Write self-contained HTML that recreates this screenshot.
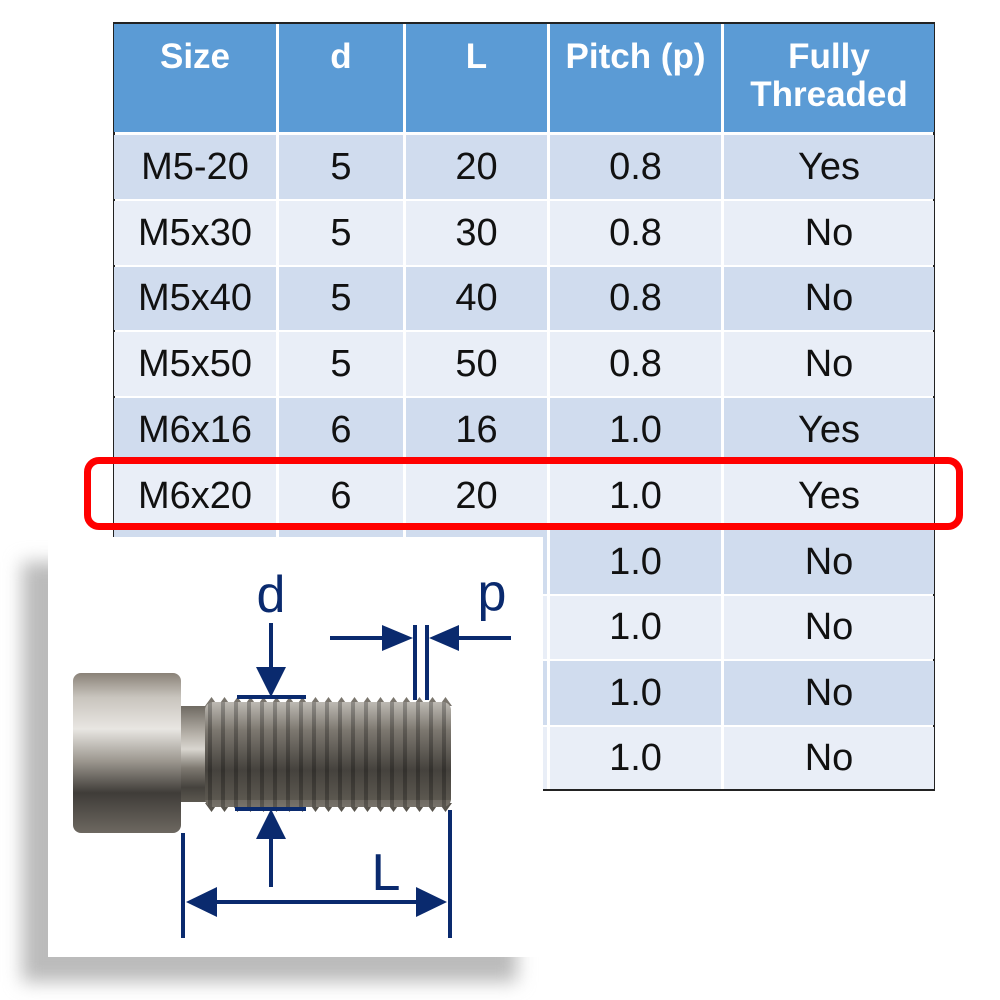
<!DOCTYPE html>
<html><head><meta charset="utf-8"><style>
body{margin:0;width:1000px;height:1000px;background:#fff;position:relative;overflow:hidden;font-family:"Liberation Sans",sans-serif}
.c{position:absolute;display:flex;align-items:center;justify-content:center;font-size:38px;color:#111;box-sizing:border-box}
.h{color:#fff;font-weight:bold;background:#5b9bd5;line-height:38px;text-align:center;align-items:flex-start;padding-top:14px;font-size:35px}
</style></head><body>
<div id="t" style="position:absolute;left:113px;top:22px;width:822px;height:769px;border:2px solid #222;box-sizing:border-box;background:#fff"></div>
<div id="cells"></div>
<script>
var cols=[113,277,404,548,722,935];
var hd=["Size","d","L","Pitch (p)","Fully<br>Threaded"];
var rows=[["M5-20","5","20","0.8","Yes"],["M5x30","5","30","0.8","No"],["M5x40","5","40","0.8","No"],["M5x50","5","50","0.8","No"],["M6x16","6","16","1.0","Yes"],["M6x20","6","20","1.0","Yes"],["","","","1.0","No"],["","","","1.0","No"],["","","","1.0","No"],["","","","1.0","No"]];
var h="";
for(var j=0;j<5;j++){var x=cols[j]+(j?2:1),w=cols[j+1]-x-1;
h+='<div class="c h" style="left:'+x+'px;top:24px;width:'+w+'px;height:108px">'+hd[j]+'</div>';
for(var i=0;i<10;i++){var y=Math.round(135+65.8*i),y2=Math.round(133+65.8*(i+1));if(i==9)y2=789;
h+='<div class="c" style="left:'+x+'px;top:'+y+'px;width:'+w+'px;height:'+(y2-y)+'px;background:'+(i%2?'#e9eef7':'#d0dcee')+'">'+rows[i][j]+'</div>';}}
document.getElementById("cells").innerHTML=h;
</script>
<div style="position:absolute;left:84px;top:457px;width:879px;height:73px;border:7px solid #f00;border-radius:15px;box-sizing:border-box"></div>
<div style="position:absolute;left:22px;top:562px;width:495px;height:420px;background:#bbb;filter:blur(9px)"></div>
<svg id="s" style="position:absolute;left:0;top:0" width="1000" height="1000">
<defs>
<linearGradient id="hg" x1="0" y1="0" x2="0" y2="1"><stop offset="0" stop-color="#8a8278"/><stop offset=".15" stop-color="#c8c4bd"/><stop offset=".35" stop-color="#e8e6e2"/><stop offset=".55" stop-color="#9c978f"/><stop offset=".75" stop-color="#3f3c38"/><stop offset="1" stop-color="#6d6860"/></linearGradient>
<linearGradient id="tg" x1="0" y1="0" x2="0" y2="1"><stop offset="0" stop-color="#6f6a62"/><stop offset=".3" stop-color="#b8b3ab"/><stop offset=".45" stop-color="#d9d6d0"/><stop offset=".65" stop-color="#7d7870"/><stop offset=".85" stop-color="#45423d"/><stop offset="1" stop-color="#5c5850"/></linearGradient>
<pattern id="th" width="13" height="200" patternUnits="userSpaceOnUse" x="0"><rect width="13" height="200" fill="url(#tg)"/><rect x="0" width="4" height="200" fill="#000" opacity=".25"/></pattern>
</defs>
<rect x="48" y="537" width="495" height="420" fill="#fff"/>
<rect x="180" y="706" width="35" height="96" fill="url(#tg)"/>
<path id="top" fill="#7a756d"/>
<path id="bot" fill="#57534c"/>
<rect x="205" y="702" width="246" height="105" rx="8" fill="url(#th)"/>
<rect x="73" y="673" width="108" height="160" rx="8" fill="url(#hg)"/>
<g fill="#0a2a6e" stroke="#0a2a6e">
<g stroke-width="4" fill="none">
<line x1="271" y1="623" x2="271" y2="685"/><line x1="237" y1="697" x2="306" y2="697"/>
<line x1="235" y1="809" x2="306" y2="809"/><line x1="271" y1="822" x2="271" y2="887"/>
<line x1="330" y1="638" x2="398" y2="638"/><line x1="445" y1="638" x2="511" y2="638"/>
<line x1="415" y1="625" x2="415" y2="700"/><line x1="427" y1="625" x2="427" y2="700"/>
<line x1="183" y1="833" x2="183" y2="938"/><line x1="450" y1="810" x2="450" y2="938"/>
<line x1="200" y1="902" x2="432" y2="902"/>
</g>
<g stroke="none">
<polygon points="256,667 286,667 271,697"/><polygon points="256,839 286,839 271,809"/>
<polygon points="382,625 382,651 413,638"/><polygon points="459,625 459,651 429,638"/>
<polygon points="186,902 217,887 217,917"/><polygon points="447,902 416,887 416,917"/>
</g>
<g stroke="none" font-family="Liberation Sans,sans-serif" font-size="52">
<text x="271" y="612" text-anchor="middle">d</text>
<text x="492" y="610" text-anchor="middle">p</text>
<text x="386" y="890" text-anchor="middle">L</text>
</g>
</g>
</svg>
<script>
var t="M205 706",b="M205 803";
for(var x=205;x<440;x+=13){t+=" L"+(x+6.5)+" 697 L"+(x+13)+" 706";b+=" L"+(x+6.5)+" 812 L"+(x+13)+" 803";}
t+=" L205 706 Z";b+=" L205 803 Z";
document.getElementById("top").setAttribute("d",t);
document.getElementById("bot").setAttribute("d",b);
</script>
</body></html>
